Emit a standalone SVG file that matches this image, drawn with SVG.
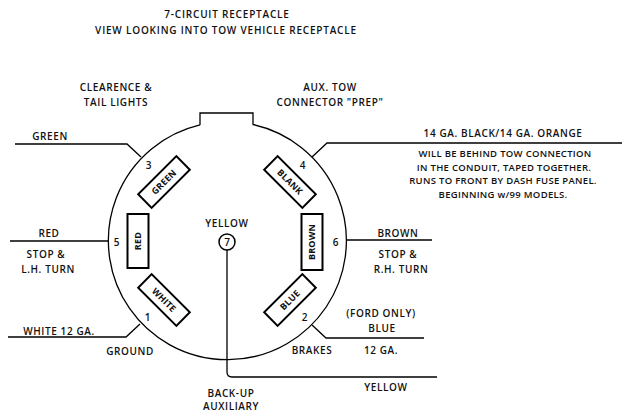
<svg xmlns="http://www.w3.org/2000/svg" width="622" height="412" viewBox="0 0 622 412">
<style>
text{font-family:"Open Sans","Liberation Sans",sans-serif;font-size:10px;font-weight:600;fill:#111;text-anchor:middle;letter-spacing:0.6px}
.t{letter-spacing:0.8px}
.n{font-size:9.5px;letter-spacing:0.3px}
.b{font-size:9px;font-weight:700;letter-spacing:0.2px}
.ln{fill:none;stroke:#000;stroke-width:1.3}
.box{fill:#fff;stroke:#000;stroke-width:2}
</style>
<rect width="622" height="412" fill="#fff"/>
<text class="t" x="227" y="18">7-CIRCUIT RECEPTACLE</text>
<text class="t" x="226" y="34">VIEW LOOKING INTO TOW VEHICLE RECEPTACLE</text>

<g id="receptacle">
<path class="ln" d="M200,124.9 L200,113 L253,113 L253,124.5 A119,119 0 1 1 200,124.9"/>
</g>

<g id="connectors">
<path class="ln" d="M15,144 L127,144 L141,157"/>
<path class="ln" d="M312,157 L327,143 L622,143"/>
<path class="ln" d="M10,241 L108,241"/>
<path class="ln" d="M347,240 L432,240"/>
<path class="ln" d="M8,337 L126,337 L140,324"/>
<path class="ln" d="M312,325 L326,338 L424,338"/>
<path class="ln" d="M227,250 L227,372 Q227,377 232,377 L437,377"/>
</g>

<g id="pin3">
<text x="149" y="169">3</text>
<g transform="translate(164,182) rotate(-45)"><rect class="box" x="-27" y="-9.5" width="54" height="19"/><text class="b" y="3.2">GREEN</text></g>
<text x="50" y="140">GREEN</text>
<text x="116" y="91">CLEARENCE &amp;</text>
<text x="116" y="106">TAIL LIGHTS</text>
</g>

<g id="pin4">
<text x="303" y="169">4</text>
<g transform="translate(290,182) rotate(45)"><rect class="box" x="-27" y="-9.5" width="54" height="19"/><text class="b" y="3.2">BLANK</text></g>
<text x="330" y="91">AUX. TOW</text>
<text x="330" y="106">CONNECTOR "PREP"</text>
<text x="503" y="137">14 GA. BLACK/14 GA. ORANGE</text>
<text class="n" x="505" y="157">WILL BE BEHIND TOW CONNECTION</text>
<text class="n" x="504" y="170.5">IN THE CONDUIT, TAPED TOGETHER.</text>
<text class="n" x="503" y="184">RUNS TO FRONT BY DASH FUSE PANEL.</text>
<text class="n" x="503" y="197.5">BEGINNING w/99 MODELS.</text>
</g>

<g id="pin5">
<text x="117" y="246">5</text>
<g transform="translate(138,241) rotate(-90)"><rect class="box" x="-27" y="-10.5" width="54" height="21"/><text class="b" y="3.2">RED</text></g>
<text x="49" y="237">RED</text>
<text x="46" y="258">STOP &amp;</text>
<text x="48" y="273">L.H. TURN</text>
</g>

<g id="pin6">
<text x="336" y="246">6</text>
<g transform="translate(312,242) rotate(-90)"><rect class="box" x="-28" y="-10.5" width="56" height="21"/><text class="b" y="3.2">BROWN</text></g>
<text x="398" y="237">BROWN</text>
<text x="398" y="258">STOP &amp;</text>
<text x="401" y="273">R.H. TURN</text>
</g>

<g id="pin7">
<text x="227" y="227">YELLOW</text>
<circle cx="227" cy="242" r="8" fill="#fff" stroke="#000" stroke-width="1.5"/>
<text x="227" y="245.5" style="letter-spacing:0">7</text>
<text x="386" y="391">YELLOW</text>
<text x="231" y="397">BACK-UP</text>
<text x="231" y="409.5">AUXILIARY</text>
</g>

<g id="pin1">
<text x="148" y="321">1</text>
<g transform="translate(164,300) rotate(45)"><rect class="box" x="-27" y="-9.5" width="54" height="19"/><text class="b" y="3.2">WHITE</text></g>
<text x="59" y="335">WHITE 12 GA.</text>
<text x="130" y="355">GROUND</text>
</g>

<g id="pin2">
<text x="305" y="321">2</text>
<g transform="translate(290,300) rotate(-45)"><rect class="box" x="-27" y="-9.5" width="54" height="19"/><text class="b" y="3.2">BLUE</text></g>
<text x="381" y="317">(FORD ONLY)</text>
<text x="382" y="332">BLUE</text>
<text x="381" y="354">12 GA.</text>
<text x="312" y="354">BRAKES</text>
</g>
</svg>
